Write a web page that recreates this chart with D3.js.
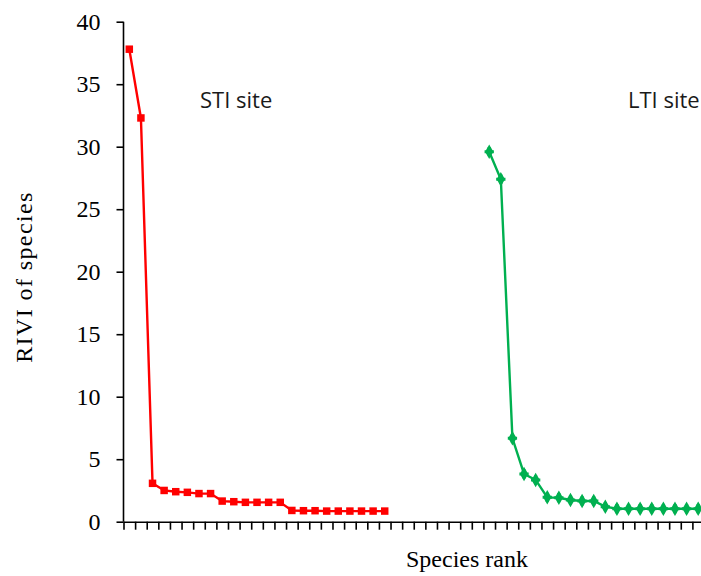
<!DOCTYPE html>
<html>
<head>
<meta charset="utf-8">
<script src="https://cdn.jsdelivr.net/npm/d3@7"></script>
<style>
  body { margin: 0; background: #fff; }
  .axis path, .axis line { stroke: #000; stroke-width: 1.6px; }
  .axis text { font-family: "Liberation Serif", serif; font-size: 24px; fill: #000; }
</style>
</head>
<body>
<svg width="701" height="576"></svg>
<script>
// species ranks 1..50 on the x axis
var nRanks = 50;
// STI site, ranks 1..23
var stiRanks = d3.range(1, 24);
var stiValues = [37.8, 32.3, 3.07, 2.5, 2.4, 2.35, 2.25, 2.25, 1.65, 1.6, 1.55, 1.55,
                 1.55, 1.55, 0.9, 0.88, 0.88, 0.85, 0.85, 0.85, 0.85, 0.85, 0.85];
// LTI site, ranks 32..50
var ltiRanks = d3.range(32, 51);
var ltiValues = [29.6, 27.4, 6.67, 3.82, 3.34, 1.95, 1.92, 1.74, 1.66, 1.66,
                 1.2, 1.04, 1.04, 1.04, 1.04, 1.04, 1.04, 1.04, 1.04];
var yTicks = [0, 5, 10, 15, 20, 25, 30, 35, 40];

var svg = d3.select("svg");

var x = d3.scaleLinear().domain([0, nRanks]).range([123.5, 123.5 + 11.61 * nRanks]);
var y = d3.scaleLinear().domain([0, 40]).range([521.7, 21.7]);

svg.append("g")
    .attr("class", "axis")
    .attr("transform", "translate(0," + y(0) + ")")
    .call(d3.axisBottom(x).tickValues(d3.range(0, nRanks + 1)).tickSize(8).tickSizeOuter(0).tickFormat(""));

svg.append("g")
    .attr("class", "axis")
    .attr("transform", "translate(" + x(0) + ",0)")
    .call(d3.axisLeft(y).tickValues(yTicks).tickSize(7).tickSizeOuter(0).tickPadding(16))
  .select(".domain").attr("d", "M0," + y(0) + "V" + y(40));

var line = d3.line()
    .x(function(d) { return x(d[0] - 0.5); })
    .y(function(d) { return y(d[1]); });

var sti = d3.zip(stiRanks, stiValues);
var lti = d3.zip(ltiRanks, ltiValues);

svg.append("path")
    .datum(sti)
    .attr("fill", "none")
    .attr("stroke", "#ff0000")
    .attr("stroke-width", 2.4)
    .attr("d", line);

svg.append("g").selectAll("path")
    .data(sti)
  .enter().append("path")
    .attr("transform", function(d) { return "translate(" + x(d[0] - 0.5) + "," + y(d[1]) + ")"; })
    .attr("d", d3.symbol().type(d3.symbolSquare).size(56))
    .attr("fill", "#ff0000");

svg.append("path")
    .datum(lti)
    .attr("fill", "none")
    .attr("stroke", "#00b050")
    .attr("stroke-width", 2.4)
    .attr("d", line);

var gm = svg.append("g").selectAll("g")
    .data(lti)
  .enter().append("g")
    .attr("transform", function(d) { return "translate(" + x(d[0] - 0.5) + "," + y(d[1]) + ")"; });
gm.append("path")
    .attr("d", d3.symbol().type(d3.symbolDiamond).size(60))
    .attr("fill", "#00b050");
gm.append("path")
    .attr("d", d3.symbol().type(d3.symbolCross).size(48))
    .attr("fill", "#00b050");

svg.append("text")
    .attr("x", 200)
    .attr("y", 108)
    .style("font-family", "'Open Sans', sans-serif")
    .style("font-size", "22px")
    .style("fill", "#1a1a1a")
    .text("STI site");

svg.append("text")
    .attr("x", 628)
    .attr("y", 108)
    .style("font-family", "'Open Sans', sans-serif")
    .style("font-size", "22px")
    .style("fill", "#1a1a1a")
    .text("LTI site");

svg.append("text")
    .attr("transform", "translate(32,277) rotate(-90)")
    .attr("text-anchor", "middle")
    .style("font-family", "'Liberation Serif', serif")
    .style("font-size", "24px")
    .style("letter-spacing", "1.4px")
    .text("RIVI of species");

svg.append("text")
    .attr("x", 467)
    .attr("y", 567)
    .attr("text-anchor", "middle")
    .style("font-family", "'Liberation Serif', serif")
    .style("font-size", "24px")
    .text("Species rank");
</script>
</body>
</html>
